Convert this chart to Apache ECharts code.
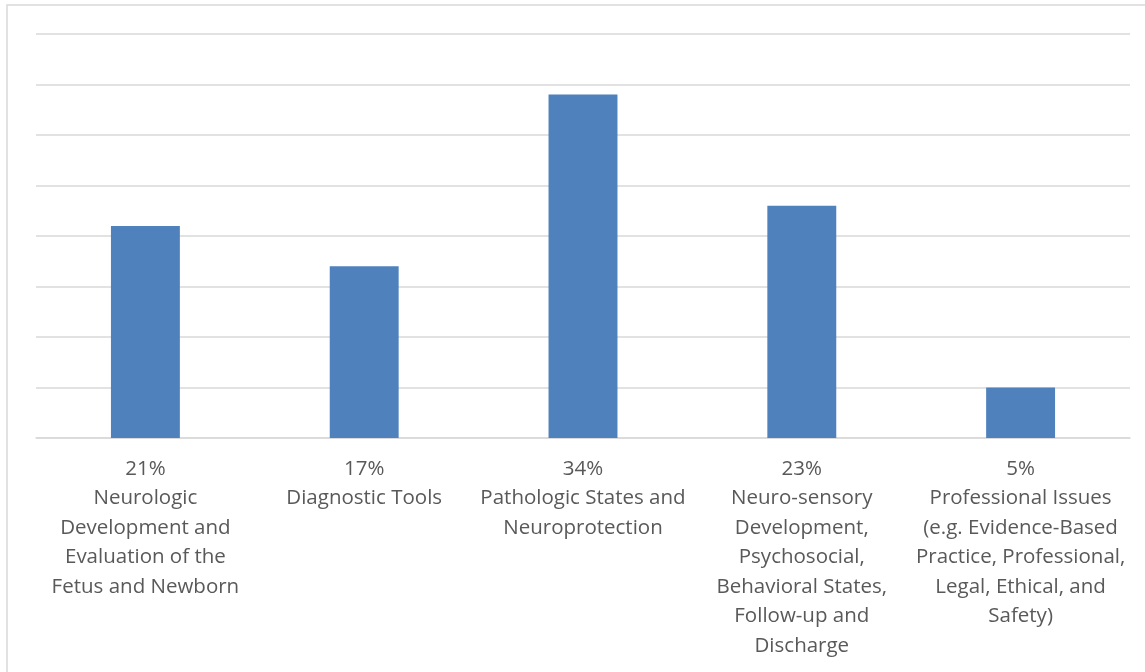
<!DOCTYPE html>
<html>
<head>
<meta charset="utf-8">
<script src="https://cdn.jsdelivr.net/npm/echarts@6/dist/echarts.min.js"></script>
<style>
  html, body { margin: 0; padding: 0; background: #fff; }
  #chart { width: 1145px; height: 672px; }
</style>
</head>
<body>
<div id="chart"></div>
<script>
// Exam content outline: share of questions per domain
const categories = [
  'Neurologic\nDevelopment and\nEvaluation of the\nFetus and Newborn',
  'Diagnostic Tools',
  'Pathologic States and\nNeuroprotection',
  'Neuro-sensory\nDevelopment,\nPsychosocial,\nBehavioral States,\nFollow-up and\nDischarge',
  'Professional Issues\n(e.g. Evidence-Based\nPractice, Professional,\nLegal, Ethical, and\nSafety)'
];
const percentages = [21, 17, 34, 23, 5];

const chart = echarts.init(document.getElementById('chart'));
chart.setOption({
  backgroundColor: '#ffffff',
  animation: false,
  graphic: [{
    type: 'rect',
    shape: { x: 7, y: 5, width: 1150, height: 700 },
    style: { fill: 'none', stroke: '#d9d9d9', lineWidth: 1.5 },
    silent: true
  }],
  grid: { left: 36, right: 15, top: 34, bottom: 234, containLabel: false },
  xAxis: {
    type: 'category',
    data: categories,
    axisLine: { show: true, lineStyle: { color: '#d9d9d9', width: 1.5 } },
    axisTick: { show: false },
    axisLabel: {
      interval: 0,
      margin: 16,
      color: '#595959',
      fontFamily: 'Open Sans',
      fontSize: 20.5,
      lineHeight: 29.5,
      align: 'center',
      formatter: function (value, idx) {
        return percentages[idx] + '%\n' + value;
      }
    }
  },
  yAxis: {
    type: 'value',
    min: 0,
    max: 40,
    interval: 5,
    axisLabel: { show: false },
    axisLine: { show: false },
    axisTick: { show: false },
    splitLine: { lineStyle: { color: '#d9d9d9', width: 1.5 } }
  },
  series: [{
    type: 'bar',
    data: percentages,
    barWidth: '31.5%',
    itemStyle: { color: '#4f81bd' }
  }]
});
</script>
</body>
</html>
